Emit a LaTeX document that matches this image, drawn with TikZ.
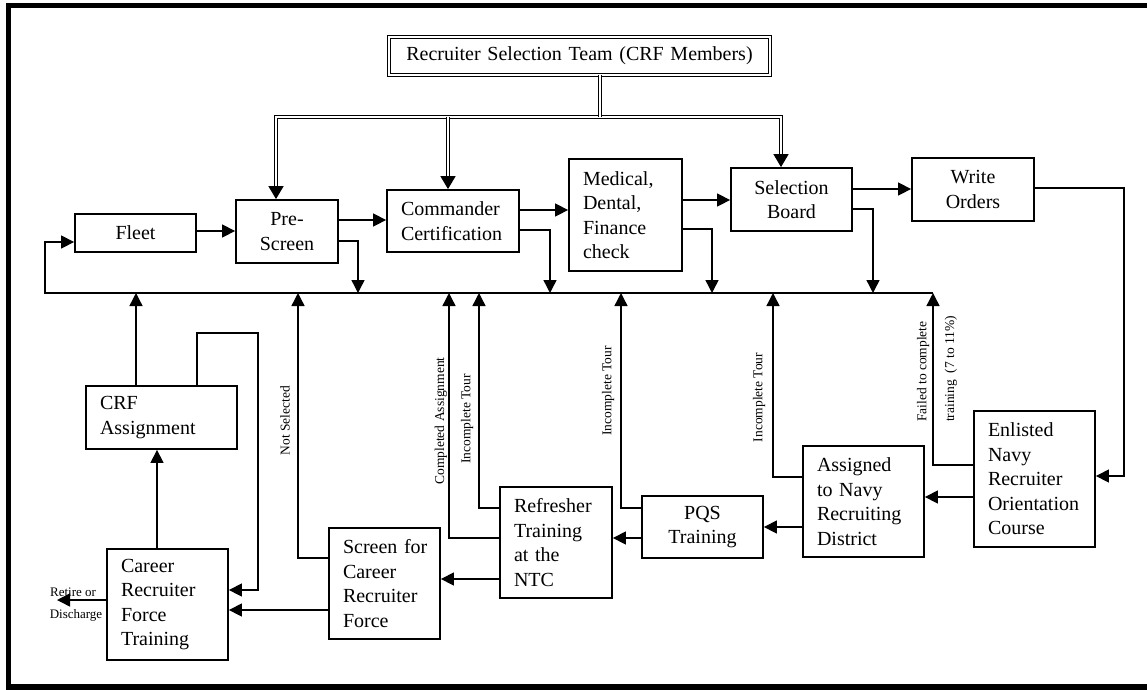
\documentclass[tikz,border=0pt]{standalone}
\usepackage{fontspec}
\setmainfont{Liberation Serif}
\usetikzlibrary{arrows.meta}
\begin{document}
\begin{tikzpicture}[x=1pt,y=-1pt,
  box/.style={draw, line width=1.8pt, inner xsep=14pt, inner ysep=0pt,
    font=\fontsize{20}{24.5}\selectfont},
  lbox/.style={box, align=left},
  cbox/.style={box, align=center},
  conn/.style={line width=1.4pt},
  arr/.style={conn, -{Triangle[length=13pt,width=13pt]}},
  darr/.style={conn, -{Triangle[length=13pt,width=15pt]}},
  dbl/.style={double, line width=0.9pt, double distance=2pt},
  lab/.style={font=\fontsize{13.5}{16}\selectfont, rotate=90, inner sep=0pt},
  side/.style={font=\fontsize{13}{15}\selectfont, inner sep=0pt},
]
\useasboundingbox (0,0) rectangle (1147,689);
\clip (0,0) rectangle (1147,689);

% outer frame
\draw[line width=5.5pt] (1170,5.5) -- (8.5,5.5) -- (8.5,687) -- (1170,687);

% boxes
\node[cbox, draw, double, line width=0.9pt, double distance=2pt,
      text width=353pt, minimum height=38pt] (rst) at (579.5,56)
      {Recruiter Selection Team (CRF Members)};
\node[cbox, text width=93pt, minimum height=38pt] (fleet) at (135.5,233) {Fleet};
\node[cbox, text width=74pt, minimum height=63pt] (ps) at (287,231.5) {Pre-\\Screen};
\node[lbox, text width=104pt, minimum height=62pt] (cc) at (453,221) {Commander\\Certification};
\node[lbox, text width=85pt, minimum height=112pt] (med) at (625.5,215) {Medical,\\Dental,\\Finance\\check};
\node[cbox, text width=93pt, minimum height=63pt] (sb) at (791.5,199.5) {Selection\\Board};
\node[cbox, text width=94pt, minimum height=63pt] (wo) at (973,189.5) {Write\\Orders};
\node[lbox, text width=93pt, minimum height=136pt] (enr) at (1034.5,479) {Enlisted\\Navy\\Recruiter\\Orientation\\Course};
\node[lbox, text width=93pt, minimum height=111pt] (asg) at (863.5,501.5) {Assigned\\to~Navy\\Recruiting\\District};
\node[cbox, text width=93pt, minimum height=62pt] (pqs) at (702.5,527) {PQS\\Training};
\node[lbox, text width=84pt, minimum height=111pt] (ref) at (556,542.5) {Refresher\\Training\\at~the\\NTC};
\node[lbox, text width=83pt, minimum height=111pt] (scr) at (384.5,583.5) {Screen~for\\Career\\Recruiter\\Force};
\node[lbox, text width=93pt, minimum height=111pt] (crft) at (167.5,604.5) {Career\\Recruiter\\Force\\Training};
\node[lbox, text width=123pt, minimum height=63pt] (crfa) at (161.5,417.5) {CRF\\Assignment};

% double-line distribution from the selection team
\coordinate (tj) at (600,117);
\coordinate (tl) at (276,117);
\coordinate (tc) at (448,117);
\coordinate (tr) at (781,117);
\draw[dbl, shorten <=13pt, shorten >=13pt] (ps.north -| tl) |- (tr) -- (sb.north -| tr);
\draw[dbl] (rst.south -| tj) -- (tj);
\draw[dbl, shorten >=13pt] (tc) -- (cc.north -| tc);
\draw[darr] (ps.north -| tl) ++(0,-13) -- (ps.north -| tl);
\draw[darr] (cc.north -| tc) ++(0,-13) -- (cc.north -| tc);
\draw[darr] (sb.north -| tr) ++(0,-13) -- (sb.north -| tr);

% return bus back to the fleet
\coordinate (busL) at (45,293);
\coordinate (busR) at (933,293);
\draw[arr] (busR) -- (busL) |- (fleet.west |- 0,242);

% selection pipeline
\draw[arr] (fleet.east |- 0,231) -- (ps.west |- 0,231);
\draw[arr] (ps.east |- 0,220) -- (cc.west |- 0,220);
\draw[arr] (cc.east |- 0,210) -- (med.west |- 0,210);
\draw[arr] (med.east |- 0,200) -- (sb.west |- 0,200);
\draw[arr] (sb.east |- 0,189) -- (wo.west |- 0,189);

% drop-outs to the bus
\draw[arr] (ps.east |- 0,241) -| (busL -| 358,0);
\draw[arr] (cc.east |- 0,230) -| (busL -| 550,0);
\draw[arr] (med.east |- 0,229) -| (busL -| 712,0);
\draw[arr] (sb.east |- 0,209) -| (busL -| 873,0);

% orders to training
\draw[arr] (wo.east |- 0,188) -| (1124,476) -- (enr.east |- 0,476);

% recruiter tour chain
\draw[arr] (enr.west |- 0,497) -- (asg.east |- 0,497);
\draw[arr] (asg.west |- 0,527) -- (pqs.east |- 0,527);
\draw[arr] (pqs.west |- 0,538) -- (ref.east |- 0,538);
\draw[arr] (ref.west |- 0,579) -- (scr.east |- 0,579);
\draw[arr] (scr.west |- 0,610) -- (crft.east |- 0,610);
\draw[arr] (crft.north -| 157,0) -- (crfa.south -| 157,0);
\draw[arr] (crfa.north -| 197,0) |- (258,333) |- (crft.east |- 0,590);
\draw[arr] (crfa.north -| 136,0) -- (busL -| 136,0);

% returns to the bus
\draw[arr] (scr.west |- 0,558) -| (busL -| 298,0);
\draw[arr] (ref.west |- 0,538) -| (busL -| 449,0);
\draw[arr] (ref.west |- 0,508) -| (busL -| 479,0);
\draw[arr] (pqs.west |- 0,508) -| (busL -| 621,0);
\draw[arr] (asg.west |- 0,477) -| (busL -| 773,0);
\draw[arr] (enr.west |- 0,465) -| (busR);

% leaving the force
\coordinate (ret) at (57,600);
\draw[arr] (crft.west |- ret) -- (ret);
\node[side] (retA) at (73,592) {Retire or};
\node[side] (retB) at (76,615) {Discharge};

% branch labels
\node[lab] (lNS) at (285,420.5) {Not Selected};
\node[lab] (lCA) at (441,421) {Completed Assignment};
\node[lab] (lIT1) at (467,419) {Incomplete Tour};
\node[lab] (lIT2) at (608,391) {Incomplete Tour};
\node[lab] (lIT3) at (759,397.5) {Incomplete Tour};
\node[lab, anchor=west] (lF1) at (923,422) {Failed to complete};
\node[lab, anchor=west] (lF2) at (951,422) {training\ \ (7 to 11\%)};

\end{tikzpicture}
\end{document}
